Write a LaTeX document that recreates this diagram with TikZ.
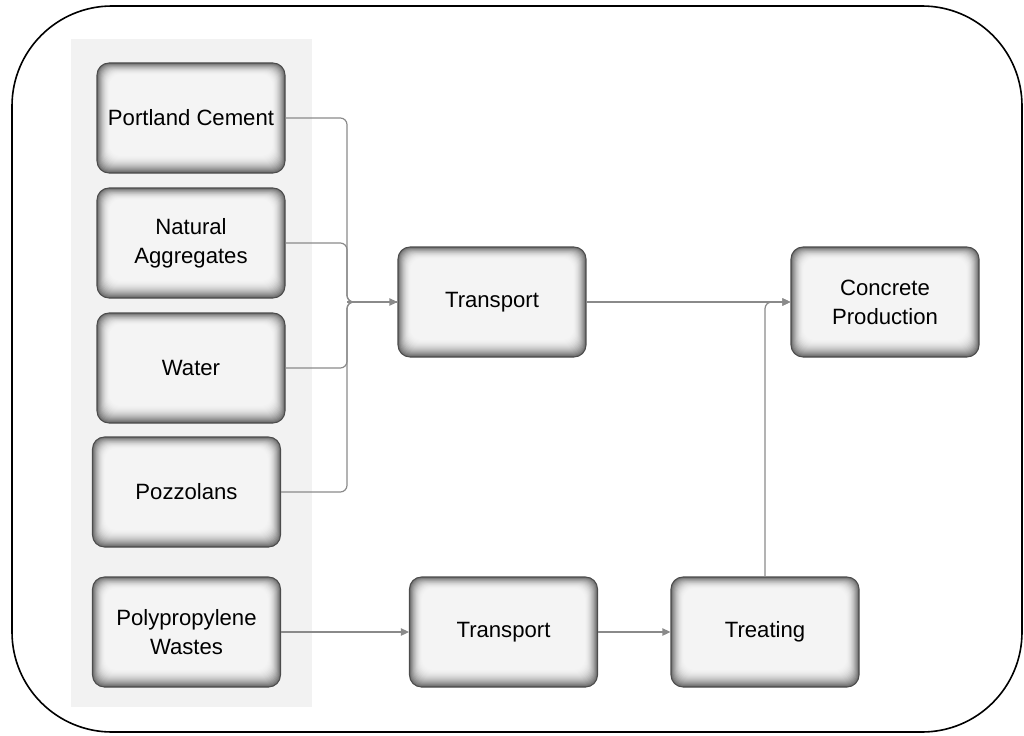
\documentclass[tikz,border=0pt]{standalone}
\usepackage{fontspec}
\setmainfont{Liberation Sans}
\usetikzlibrary{arrows.meta}
\definecolor{boxfill}{HTML}{F4F4F4}
\definecolor{panel}{HTML}{F2F2F2}
\definecolor{conn}{HTML}{8A8A8A}
\tikzset{
  box/.style={rounded corners=9pt, draw=black!70, line width=0.8pt, fill=boxfill,
    align=center, inner sep=0pt, minimum width=141pt, minimum height=82.5pt,
    font=\fontsize{16.6}{21.8}\selectfont,
    path picture={
      \foreach \i in {0,...,18}{
        \pgfmathsetmacro\c{58*(1-\i/18)^2}
        \fill[black!\c!boxfill, rounded corners=8pt]
          ([shift={(\i*0.55pt,-\i*0.5pt)}]path picture bounding box.north west)
          rectangle ([shift={(-\i*0.55pt,\i*0.75pt)}]path picture bounding box.south east);
      }
    }},
  link/.style={draw=conn, line width=0.9pt, rounded corners=5pt},
  tip/.style={-{Triangle[length=6pt,width=5.5pt]}}
}
\begin{document}
\begin{tikzpicture}[x=0.75pt,y=-0.75pt]
\useasboundingbox (0,0) rectangle (1024,735);
\draw[line width=1.2pt, rounded corners=75pt] (12,6) rectangle (1022,732);
\fill[panel] (71,39) rectangle (312,707);

\node[box] (pc) at (191,118) {Portland Cement};
\node[box] (na) at (191,243) {Natural\\Aggregates};
\node[box] (wa) at (191,368) {Water};
\node[box] (pz) at (186.5,492) {Pozzolans};
\node[box] (pp) at (186.5,632) {Polypropylene\\Wastes};
\node[box] (t1) at (492,302) {Transport};
\node[box] (cp) at (885,302) {Concrete\\Production};
\node[box] (t2) at (503.5,632) {Transport};
\node[box] (tr) at (765,632) {Treating};

\coordinate (j) at (347,302);
\draw[link] (pc.east) -| (j) -- (t1.west);
\draw[link] (na.east) -| (j) -- (t1.west);
\draw[link] (wa.east) -| (j) -- (t1.west);
\draw[link] (pz.east) -| (j) -- (t1.west);
\draw[link,tip] (j) -- (t1.west);
\draw[link,tip] (t1.east) -- (cp.west);
\draw[link,tip] (tr.north) |- (cp.west);
\draw[link,tip] (pp.east) -- (t2.west);
\draw[link,tip] (t2.east) -- (tr.west);
\end{tikzpicture}
\end{document}
